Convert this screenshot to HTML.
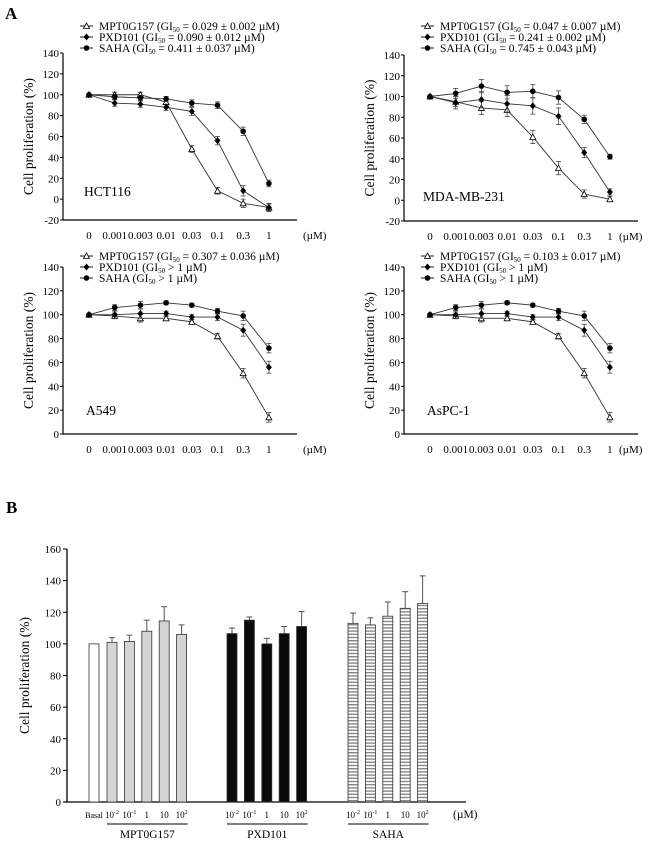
<!DOCTYPE html>
<html><head><meta charset="utf-8"><style>
body{margin:0;background:#fff}
svg{display:block;font-family:"Liberation Serif","Times New Roman",serif}
svg text{font-family:"Liberation Serif","Times New Roman",serif}
</style></head><body>
<svg id="fig" width="650" height="858" viewBox="0 0 650 858" font-family="Liberation Serif, serif">
<text x="5" y="19" font-size="17" font-weight="bold">A</text>
<text x="6" y="513" font-size="17" font-weight="bold">B</text>
</svg>
<script>
const NS="http://www.w3.org/2000/svg";
const svg=document.getElementById('fig');
function mk(tag,attrs,parent){const e=document.createElementNS(NS,tag);for(const k in attrs)e.setAttribute(k,attrs[k]);(parent||svg).appendChild(e);return e;}
function txt(x,y,s,size,anchor,parent){const t=mk('text',{x:x,y:y,'font-size':size,'text-anchor':anchor||'start'},parent);t.textContent=s;return t;}

// ---------- Panel A data ----------
const doseLabels=["0","0.001","0.003","0.01","0.03","0.1","0.3","1"];
const hctMPT=[100,100,100,93,48,8,-4,-8];
const hctPXD=[100,92,91,88,84,56,8,-8];
const hctSAHA=[100,98,97,96,92,90,65,15];
const mdaMPT=[100,95,89,87,61,31,6,1];
const mdaPXD=[100,94,97,93,91,81,46,8];
const mdaSAHA=[100,103,110,104,105,99,78,42];
const a549MPT=[100,99,97,97,94,82,51,14];
const a549PXD=[100,100,101,101,98,98,87,56];
const a549SAHA=[100,106,108,110,108,103,99,72];
const aspcMPT=[100,99,97,97,94,82,51,14];
const aspcPXD=[100,100,101,101,98,98,87,56];
const aspcSAHA=[100,106,108,110,108,103,99,72];
const hctErr=[0,3,3,3,4,4,5,4];
const mdaErr=[0,6,8,8,8,8,5,3];
const a549Err=[0,3,4,2,2,3,5,5];
const topTicks=[-20,0,20,40,60,80,100,120,140];
const botTicks=[0,20,40,60,80,100,120,140];

const panels=[
 {name:"HCT116",ox:63,ymin:-20,yTop:53,yBot:220,ticks:topTicks,s:[hctMPT,hctPXD,hctSAHA],err:hctErr,um:303,
  leg:["MPT0G157 (GI","50"," = 0.029 \u00b1 0.002 \u00b5M)","PXD101 (GI","50"," = 0.090 \u00b1 0.012 \u00b5M)","SAHA (GI","50"," = 0.411 \u00b1 0.037 \u00b5M)"],ly:26,lbl:[84,196]},
 {name:"MDA-MB-231",ox:404,ymin:-20,yTop:55,yBot:221,ticks:topTicks,s:[mdaMPT,mdaPXD,mdaSAHA],err:mdaErr,um:619,
  leg:["MPT0G157 (GI","50"," = 0.047 \u00b1 0.007 \u00b5M)","PXD101 (GI","50"," = 0.241 \u00b1 0.002 \u00b5M)","SAHA (GI","50"," = 0.745 \u00b1 0.043 \u00b5M)"],ly:26,lbl:[423,201]},
 {name:"A549",ox:63,ymin:0,yTop:267,yBot:434,ticks:botTicks,s:[a549MPT,a549PXD,a549SAHA],err:a549Err,um:303,
  leg:["MPT0G157 (GI","50"," = 0.307 \u00b1 0.036 \u00b5M)","PXD101 (GI","50"," > 1 \u00b5M)","SAHA (GI","50"," >  1 \u00b5M)"],ly:256,lbl:[86,415]},
 {name:"AsPC-1",ox:404,ymin:0,yTop:267,yBot:434,ticks:botTicks,s:[aspcMPT,aspcPXD,aspcSAHA],err:a549Err,um:619,
  leg:["MPT0G157 (GI","50"," = 0.103 \u00b1 0.017 \u00b5M)","PXD101 (GI","50"," > 1 \u00b5M)","SAHA (GI","50"," >  1 \u00b5M)"],ly:256,lbl:[427,415]}
];

function marker(type,x,y,g){
  if(type===0) return mk('path',{d:`M${x} ${y-3}L${x+3} ${y+2.5}L${x-3} ${y+2.5}Z`,fill:'#fff',stroke:'#000','stroke-width':0.8},g);
  if(type===1) return mk('path',{d:`M${x} ${y-3.5}L${x+3} ${y}L${x} ${y+3.5}L${x-3} ${y}Z`,fill:'#000'},g);
  return mk('circle',{cx:x,cy:y,r:2.8,fill:'#000'},g);
}

panels.forEach((p,pi)=>{
  const g=mk('g',{});
  
  
  const ymax=140;
  const ys=v=>p.yBot-(v-p.ymin)/(ymax-p.ymin)*(p.yBot-p.yTop);
  const xs=i=>p.ox+26+i*25.7;
  mk('line',{x1:p.ox,y1:p.yTop,x2:p.ox,y2:p.yBot,stroke:'#000','stroke-width':1.2},g);
  mk('line',{x1:p.ox,y1:p.yBot,x2:p.ox+234,y2:p.yBot,stroke:'#000','stroke-width':1.2},g);
  p.ticks.forEach(t=>{
    mk('line',{x1:p.ox-3,y1:ys(t),x2:p.ox,y2:ys(t),stroke:'#000'},g);
    const tl=txt(p.ox-4,ys(t)+4,String(t),11,'end',g);
    
    
  });
  doseLabels.forEach((d,i)=>{
    const tl=txt(xs(i),p.yBot+19,d,11,'middle',g);
    
    
  });
  const um=txt(p.um,p.yBot+19,"(\u00b5M)",11,'start',g);
  
  
  const yt=txt(0,0,"Cell proliferation (%)",13.5,'middle',g);
  yt.setAttribute('transform',`translate(${p.ox-30},${(p.yTop+p.yBot)/2}) rotate(-90)`);
  
  
  const cl=txt(p.lbl[0],p.lbl[1],p.name,13.5,'start',g);
  
  
  const names=['mpt0g157','pxd101','saha'];
  p.s.forEach((ser,si)=>{
    const sg=mk('g',{},g);
    
    
    mk('polyline',{points:ser.map((v,i)=>xs(i)+','+ys(v)).join(' '),fill:'none',stroke:'#333','stroke-width':0.9},sg);
    ser.forEach((v,i)=>{
      const e=p.err[i]*(si===1?1:0.8);
      if(e>0){
        mk('line',{x1:xs(i),y1:ys(v+e),x2:xs(i),y2:ys(v-e),stroke:'#444','stroke-width':0.8},sg);
        mk('line',{x1:xs(i)-2.5,y1:ys(v+e),x2:xs(i)+2.5,y2:ys(v+e),stroke:'#444','stroke-width':0.8},sg);
        mk('line',{x1:xs(i)-2.5,y1:ys(v-e),x2:xs(i)+2.5,y2:ys(v-e),stroke:'#444','stroke-width':0.8},sg);
      }
      const m=marker(si,xs(i),ys(v),sg);
      
      
    });
  });
  for(let k=0;k<3;k++){
    const lg=mk('g',{},g);
    
    
    const ly=p.ly+k*11, lx=p.ox+17;
    mk('line',{x1:lx,y1:ly,x2:lx+13,y2:ly,stroke:'#000','stroke-width':0.9},lg);
    marker(k,lx+6.5,ly,lg);
    const t=mk('text',{x:lx+19,y:ly+4,'font-size':11.5},lg);
    const a=document.createElementNS(NS,'tspan');a.textContent=p.leg[k*3];t.appendChild(a);
    const b=document.createElementNS(NS,'tspan');b.setAttribute('font-size','7');b.setAttribute('dy','2');b.textContent=p.leg[k*3+1];t.appendChild(b);
    const c=document.createElementNS(NS,'tspan');c.setAttribute('dy','-2');c.textContent=p.leg[k*3+2];t.appendChild(c);
  }
});

// ---------- Panel B data ----------
const barGroups=["Basal","MPT0G157","PXD101","SAHA"];
const basalVal=[100];
const mptVals=[101,101.5,108,114.5,106];
const pxdVals=[106.5,115,100,106.5,111];
const sahaVals=[113,112,117.5,122.5,125.5];
const mptErr=[3,4,7,9,6];
const pxdErr=[3.5,2,3.5,4.5,9.5];
const sahaErr=[6.5,4.5,9,10.5,17.5];
const barTicks=[0,20,40,60,80,100,120,140,160];
const concLabels=["10","10","1","10","10"];
const concSup=["-2","-1","","","2"];

const bg=mk('g',{});


const bY0=802,bY1=549,bX=67;
const by=v=>bY0-v/160*(bY0-bY1);
const defs=mk('defs',{},bg);
const pat=mk('pattern',{id:'hstripe',width:4,height:3.2,patternUnits:'userSpaceOnUse'},defs);
mk('rect',{width:4,height:3.2,fill:'#fff'},pat);
mk('rect',{width:4,height:1.4,fill:'#888'},pat);
mk('line',{x1:bX,y1:bY1,x2:bX,y2:bY0,stroke:'#000','stroke-width':1.3},bg);
mk('line',{x1:bX-3,y1:bY0,x2:466,y2:bY0,stroke:'#000','stroke-width':1.3},bg);
barTicks.forEach(t=>{
  mk('line',{x1:bX-4,y1:by(t),x2:bX,y2:by(t),stroke:'#000'},bg);
  const tl=txt(bX-6,by(t)+4,String(t),11,'end',bg);
  
  
});
const byt=txt(0,0,"Cell proliferation (%)",13.5,'middle',bg);
byt.setAttribute('transform',`translate(29,${(bY0+bY1)/2}) rotate(-90)`);


function bar(x,v,e,fill,name){
  const w=10;
  if(e>0){
    mk('line',{x1:x,y1:by(v),x2:x,y2:by(v+e),stroke:'#555','stroke-width':1},bg);
    mk('line',{x1:x-3,y1:by(v+e),x2:x+3,y2:by(v+e),stroke:'#555','stroke-width':1},bg);
  }
  const r=mk('rect',{x:x-w/2,y:by(v),width:w,height:bY0-by(v),fill:fill,stroke:'#333','stroke-width':0.8},bg);
  
  
}
bar(94,basalVal[0],0,'#fff','bar-basal');
const bl=txt(94,818,"Basal",8,'middle',bg);


const groupStarts=[112,232,353];
const groupSeries=[[mptVals,mptErr,'#d4d4d4'],[pxdVals,pxdErr,'#0a0a0a'],[sahaVals,sahaErr,'url(#hstripe)']];
groupSeries.forEach((gs,gi)=>{
  gs[0].forEach((v,i)=>{
    const x=groupStarts[gi]+i*17.4;
    bar(x,v,gs[1][i],gs[2],'bar-'+barGroups[gi+1].toLowerCase()+'-'+i);
    const t=mk('text',{x:x,y:818,'font-size':9,'text-anchor':'middle'},bg);
    
    
    t.appendChild(document.createTextNode(concLabels[i]));
    if(concSup[i]){const s=document.createElementNS(NS,'tspan');s.setAttribute('font-size','6');s.setAttribute('dy','-4');s.textContent=concSup[i];t.appendChild(s);}
  });
  const x0=groupStarts[gi]-5, x1=groupStarts[gi]+4*17.4+6;
  mk('line',{x1:x0,y1:824,x2:x1,y2:824,stroke:'#000','stroke-width':0.9},bg);
  const gl=txt((x0+x1)/2,838,barGroups[gi+1],11.5,'middle',bg);
  
  
});
const bu=txt(453,818,"(\u00b5M)",11.5,'start',bg);


</script>
</body></html>
